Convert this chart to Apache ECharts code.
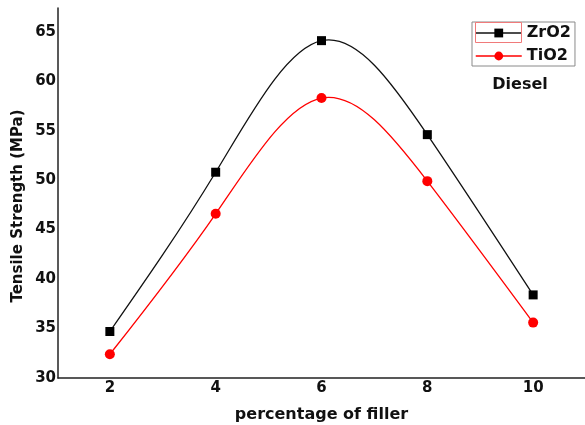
<!DOCTYPE html>
<html>
<head>
<meta charset="utf-8">
<script src="https://cdn.jsdelivr.net/npm/echarts@6/dist/echarts.min.js"></script>
<style>
  html, body { margin: 0; padding: 0; background: #fff; }
  #chart { width: 585px; height: 425px; }
</style>
</head>
<body>
<div id="chart"></div>
<script>
// Filler content (%) and tensile strength (MPa) for each nanofiller
const fillerPct = [2, 4, 6, 8, 10];
const zro2 = [34.7, 50.8, 64.1, 54.6, 38.4];
const tio2 = [32.4, 46.6, 58.3, 49.9, 35.6];
const xTicks = [2, 4, 6, 8, 10];
const yTicks = [30, 35, 40, 45, 50, 55, 60, 65];

const FONT = '"DejaVu Sans", "Liberation Sans", Arial, sans-serif';
const BLACK = '#111';
const RED = '#ff0000';

const pairs = (xs, ys) => xs.map((x, i) => [x, ys[i]]);

// Natural cubic spline through pixel points, returned as Bezier segments
function naturalSplineSegments(pts) {
  const n = pts.length;
  const h = [];
  for (let i = 0; i < n - 1; i++) h.push(pts[i + 1][0] - pts[i][0]);
  const m = n - 2;
  const a = [], b = [], c = [], d = [];
  for (let i = 1; i < n - 1; i++) {
    a.push(h[i - 1]);
    b.push(2 * (h[i - 1] + h[i]));
    c.push(h[i]);
    d.push(6 * ((pts[i + 1][1] - pts[i][1]) / h[i] - (pts[i][1] - pts[i - 1][1]) / h[i - 1]));
  }
  const cp = [], dp = [];
  for (let i = 0; i < m; i++) {
    const denom = b[i] - (i > 0 ? a[i] * cp[i - 1] : 0);
    cp[i] = c[i] / denom;
    dp[i] = (d[i] - (i > 0 ? a[i] * dp[i - 1] : 0)) / denom;
  }
  const M = new Array(n).fill(0);
  for (let i = m - 1; i >= 0; i--) {
    M[i + 1] = dp[i] - (i < m - 1 ? cp[i] * M[i + 2] : 0);
  }
  const segs = [];
  for (let i = 0; i < n - 1; i++) {
    const [x0, y0] = pts[i];
    const [x1, y1] = pts[i + 1];
    const hi = h[i];
    const slope = (y1 - y0) / hi;
    const s0 = slope - hi * (2 * M[i] + M[i + 1]) / 6;
    const s1 = slope + hi * (M[i] + 2 * M[i + 1]) / 6;
    segs.push({
      x1: x0, y1: y0, x2: x1, y2: y1,
      cpx1: x0 + hi / 3, cpy1: y0 + s0 * hi / 3,
      cpx2: x1 - hi / 3, cpy2: y1 - s1 * hi / 3
    });
  }
  return segs;
}

// Custom series that draws one smooth curve through all of a series' points
function curveSeries(name, xs, ys, color) {
  return {
    name: name,
    type: 'custom',
    coordinateSystem: 'cartesian2d',
    z: 1,
    silent: true,
    data: pairs(xs, ys),
    encode: { x: 0, y: 1 },
    renderItem: function (params, api) {
      if (params.dataIndex !== 0) return null;
      const pts = xs.map((x, i) => api.coord([x, ys[i]]));
      return {
        type: 'group',
        children: naturalSplineSegments(pts).map(s => ({
          type: 'bezierCurve',
          shape: s,
          style: { fill: null, stroke: color, lineWidth: 1.3 }
        }))
      };
    }
  };
}

const chart = echarts.init(document.getElementById('chart'), null, { renderer: 'canvas' });

chart.setOption({
  animation: false,
  backgroundColor: '#fff',
  grid: { left: 58, right: 0, top: 8, bottom: 47, outerBoundsMode: 'none', containLabel: false },
  xAxis: {
    type: 'value',
    min: 1.02,
    max: 10.98,
    name: 'percentage of filler',
    nameLocation: 'middle',
    nameGap: 29,
    nameTextStyle: { fontFamily: FONT, fontWeight: 'bold', fontSize: 16, color: BLACK },
    axisLine: { lineStyle: { color: '#222', width: 1.5 } },
    axisTick: { show: false },
    splitLine: { show: false },
    axisLabel: {
      customValues: xTicks,
      fontFamily: FONT, fontWeight: 'bold', fontSize: 15, color: BLACK, margin: 3
    }
  },
  yAxis: {
    type: 'value',
    min: 30,
    max: 67.4,
    axisLine: { show: true, lineStyle: { color: '#222', width: 1.5 } },
    axisTick: { show: false },
    splitLine: { show: false },
    axisLabel: {
      customValues: yTicks,
      fontFamily: FONT, fontWeight: 'bold', fontSize: 15, color: BLACK, margin: 2
    }
  },
  legend: {
    orient: 'vertical',
    left: 472,
    top: 22,
    padding: [1, 4, 0, 3],
    itemGap: 3,
    itemWidth: 46,
    itemHeight: 11,
    borderColor: '#8a8a8a',
    borderWidth: 1,
    backgroundColor: '#fff',
    textStyle: { fontFamily: FONT, fontWeight: 'bold', fontSize: 16, color: BLACK, lineHeight: 20 },
    data: [
      { name: 'ZrO2', lineStyle: { color: BLACK, width: 1.5, opacity: 1 } },
      { name: 'TiO2', lineStyle: { color: RED, width: 1.5, opacity: 1 } }
    ]
  },
  graphic: [
    {
      // y-axis title
      type: 'text',
      x: 18,
      y: 206,
      rotation: Math.PI / 2,
      style: {
        text: 'Tensile Strength (MPa)',
        font: 'bold 15px ' + FONT,
        fill: BLACK,
        textAlign: 'center',
        textVerticalAlign: 'middle'
      }
    },
    {
      // highlight frame around the first legend key
      type: 'rect',
      z: 100,
      shape: { x: 475.5, y: 22.5, width: 46, height: 20 },
      style: { fill: null, stroke: '#f07a7a', lineWidth: 1 }
    },
    {
      type: 'text',
      x: 520,
      y: 85,
      style: {
        text: 'Diesel',
        font: 'bold 16px ' + FONT,
        fill: BLACK,
        textAlign: 'center',
        textVerticalAlign: 'middle'
      }
    }
  ],
  series: [
    curveSeries('ZrO2 curve', fillerPct, zro2, BLACK),
    curveSeries('TiO2 curve', fillerPct, tio2, RED),
    {
      name: 'ZrO2',
      type: 'line',
      z: 3,
      data: pairs(fillerPct, zro2),
      symbol: 'rect',
      symbolSize: 9,
      itemStyle: { color: '#000' },
      lineStyle: { color: BLACK, width: 0, opacity: 0 }
    },
    {
      name: 'TiO2',
      type: 'line',
      z: 3,
      data: pairs(fillerPct, tio2),
      symbol: 'circle',
      symbolSize: 10,
      itemStyle: { color: RED },
      lineStyle: { color: RED, width: 0, opacity: 0 }
    }
  ]
});
</script>
</body>
</html>
